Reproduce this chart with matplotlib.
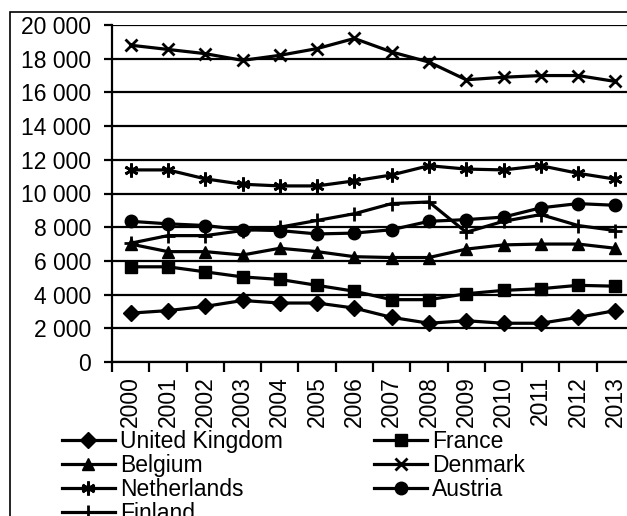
import numpy as np
import matplotlib
matplotlib.use("Agg")
import matplotlib.pyplot as plt
from matplotlib.patches import Rectangle
from matplotlib.ticker import FuncFormatter

plt.rcParams['font.family'] = ['Liberation Sans', 'DejaVu Sans']

years = [str(y) for y in range(2000, 2014)]

united_kingdom = [2900, 3050, 3300, 3650, 3500, 3500, 3200, 2650, 2300, 2450, 2300, 2300, 2650, 3050]
france = [5650, 5650, 5350, 5050, 4900, 4550, 4200, 3700, 3700, 4050, 4250, 4350, 4550, 4500]
belgium = [7000, 6550, 6550, 6350, 6750, 6550, 6250, 6200, 6200, 6700, 6950, 7000, 7000, 6750]
denmark = [18800, 18550, 18300, 17900, 18200, 18600, 19200, 18400, 17800, 16750, 16900, 17000, 17000, 16650]
netherlands = [11400, 11400, 10870, 10550, 10450, 10450, 10750, 11100, 11650, 11450, 11400, 11650, 11200, 10850]
austria = [8350, 8200, 8100, 7850, 7800, 7600, 7650, 7850, 8350, 8450, 8600, 9150, 9400, 9300]
finland = [7050, 7500, 7500, 7800, 8000, 8400, 8800, 9400, 9500, 7700, 8350, 8750, 8100, 7800]

series = [
    ("United Kingdom", united_kingdom, "D", 8),
    ("France", france, "s", 9),
    ("Belgium", belgium, "^", 9),
    ("Denmark", denmark, "x", 9),
    ("Netherlands", netherlands, (6, 2, 0), 10),
    ("Austria", austria, "o", 9),
    ("Finland", finland, "+", 10),
]

FS = 16.5

fig = plt.figure(figsize=(6.27, 5.16), dpi=100)
W, H = 627, 516
ax = fig.add_axes([112 / W, 1 - 362 / H, 522 / W, 337 / H])

x = np.arange(len(years))
handles = {}
for name, vals, mk, ms in series:
    h, = ax.plot(x, vals, color='black', lw=2.3, marker=mk, markersize=ms,
                 markeredgewidth=2 if mk in ("x", "+", (6, 2, 0)) else 1,
                 label=name, clip_on=False)
    handles[name] = h

ax.set_xlim(-0.5, 13.5)
ax.set_ylim(0, 20000)
ax.set_yticks(np.arange(0, 20001, 2000))
ax.yaxis.set_major_formatter(FuncFormatter(lambda v, p: f"{int(v):,}".replace(",", " ")))
ax.grid(axis='y', color='black', lw=1.6)
ax.set_axisbelow(True)

ax.set_xticks(x)
ax.set_xticklabels(years, rotation=90)
ax.set_xticks(np.arange(-0.5, 14, 1), minor=True)
ax.tick_params(axis='x', which='major', length=0, pad=10, labelsize=FS)
ax.tick_params(axis='x', which='minor', length=7, width=1.6, direction='out')
ax.tick_params(axis='y', length=6, width=1.6, direction='out', pad=9, labelsize=FS)

for s in ['top', 'right']:
    ax.spines[s].set_visible(False)
for s in ['left', 'bottom']:
    ax.spines[s].set_linewidth(1.6)

# outer chart border (cut off on right and bottom)
fig.patches.append(Rectangle((10 / W, -0.1), 1.2, 1 - 12 / H + 0.1,
                             transform=fig.transFigure, fill=False,
                             edgecolor='black', lw=1.2))

order = ["United Kingdom", "Belgium", "Netherlands", "Finland",
         "France", "Denmark", "Austria"]
fig.legend([handles[n] for n in order], order, ncol=2, frameon=False,
           loc='upper left', bbox_to_anchor=(62 / W, 1 - 430 / H),
           fontsize=FS, borderpad=0, labelspacing=0.05, handlelength=2.3,
           handletextpad=0.22, columnspacing=4.0, borderaxespad=0)

fig.savefig("out.png", dpi=100)
